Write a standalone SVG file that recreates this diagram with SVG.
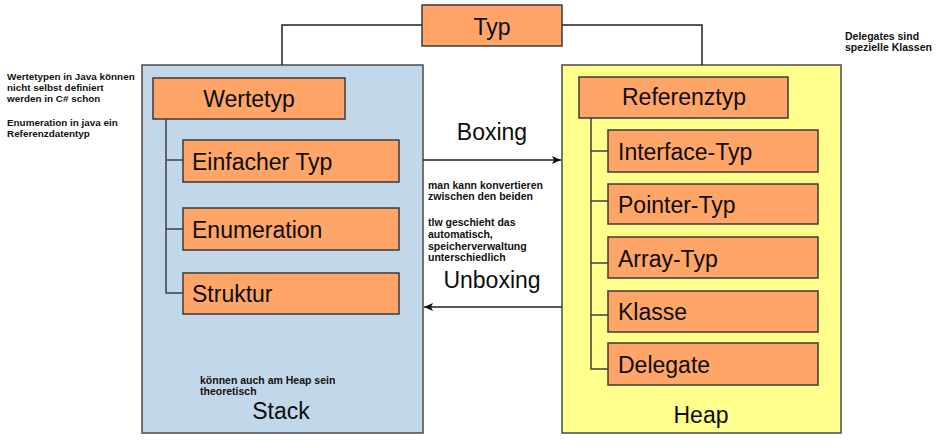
<svg xmlns="http://www.w3.org/2000/svg" width="944" height="446" viewBox="0 0 944 446">
  <style>
    .bg { fill: #ffffff; }
    .area { stroke: #4a4a4a; stroke-width: 1.5; }
    .stack { fill: #c3d7ea; }
    .heap { fill: #ffff8c; }
    .node { fill: #fea567; stroke: #3a3a3a; stroke-width: 1.5; }
    .lbl { font-family: "Liberation Sans", Arial, sans-serif; font-size: 23px; fill: #0d0d0d; }
    .mid { text-anchor: middle; }
    .note { font-family: "Liberation Sans", Arial, sans-serif; font-size: 10.5px; font-weight: bold; fill: #111111; }
    .side { font-size: 9.9px; }
    .wire { fill: none; stroke: #222222; stroke-width: 1.5; }
    .tree { fill: none; stroke: #3f3f3f; stroke-width: 1.5; }
  </style>
  <defs>
    <marker id="arrow" markerWidth="10" markerHeight="10" refX="9" refY="5" orient="auto" markerUnits="userSpaceOnUse">
      <path d="M0,1 L9,5 L0,9 L2,5 Z" fill="#111111"/>
    </marker>
  </defs>

  <rect class="bg" x="0" y="0" width="944" height="446"/>

  <!-- memory areas -->
  <g id="stack">
    <rect class="area stack" x="142" y="65" width="281" height="368"/>
    <text class="lbl mid" x="281" y="419">Stack</text>
  </g>
  <g id="heap">
    <rect class="area heap" x="562" y="65" width="279" height="368"/>
    <text class="lbl mid" x="701" y="423">Heap</text>
  </g>

  <!-- connectors -->
  <g id="connectors">
    <polyline class="wire" points="422,25 282,25 282,65"/>
    <polyline class="wire" points="562,25 702,25 702,65"/>
    <line class="wire" x1="423" y1="160" x2="561" y2="160" marker-end="url(#arrow)"/>
    <line class="wire" x1="562" y1="307" x2="424" y2="307" marker-end="url(#arrow)"/>
    <!-- Wertetyp tree -->
    <polyline class="tree" points="166,119 166,293 183,293"/>
    <line class="tree" x1="166" y1="160" x2="183" y2="160"/>
    <line class="tree" x1="166" y1="229" x2="183" y2="229"/>
    <!-- Referenztyp tree -->
    <polyline class="tree" points="591,118 591,369 608,369"/>
    <line class="tree" x1="591" y1="151" x2="608" y2="151"/>
    <line class="tree" x1="591" y1="201" x2="608" y2="201"/>
    <line class="tree" x1="591" y1="263" x2="608" y2="263"/>
    <line class="tree" x1="591" y1="315" x2="608" y2="315"/>
  </g>

  <!-- nodes -->
  <g id="typ">
    <rect class="node" x="422" y="5" width="140" height="41"/>
    <text class="lbl mid" x="492" y="35">Typ</text>
  </g>
  <g id="wertetyp">
    <rect class="node" x="153" y="78" width="192" height="41"/>
    <text class="lbl mid" x="249" y="107">Wertetyp</text>
  </g>
  <g id="einfacher-typ">
    <rect class="node" x="183" y="140" width="216" height="42"/>
    <text class="lbl" x="192" y="170">Einfacher Typ</text>
  </g>
  <g id="enumeration">
    <rect class="node" x="183" y="208" width="216" height="42"/>
    <text class="lbl" x="192" y="238">Enumeration</text>
  </g>
  <g id="struktur">
    <rect class="node" x="183" y="273" width="216" height="41"/>
    <text class="lbl" x="192" y="302">Struktur</text>
  </g>
  <g id="referenztyp">
    <rect class="node" x="579" y="77" width="209" height="41"/>
    <text class="lbl mid" x="684" y="105">Referenztyp</text>
  </g>
  <g id="interface-typ">
    <rect class="node" x="608" y="130" width="210" height="42"/>
    <text class="lbl" x="618" y="160">Interface-Typ</text>
  </g>
  <g id="pointer-typ">
    <rect class="node" x="608" y="184" width="210" height="40"/>
    <text class="lbl" x="618" y="213">Pointer-Typ</text>
  </g>
  <g id="array-typ">
    <rect class="node" x="608" y="237" width="210" height="41"/>
    <text class="lbl" x="618" y="267">Array-Typ</text>
  </g>
  <g id="klasse">
    <rect class="node" x="608" y="291" width="210" height="41"/>
    <text class="lbl" x="618" y="320">Klasse</text>
  </g>
  <g id="delegate">
    <rect class="node" x="608" y="343" width="210" height="42"/>
    <text class="lbl" x="618" y="373">Delegate</text>
  </g>

  <!-- arrow labels -->
  <text class="lbl mid" x="492" y="140">Boxing</text>
  <text class="lbl mid" x="492" y="288">Unboxing</text>

  <!-- notes -->
  <text class="note side" x="7" y="80">Wertetypen in Java können</text>
  <text class="note side" x="7" y="91">nicht selbst definiert</text>
  <text class="note side" x="7" y="102">werden in C# schon</text>
  <text class="note side" x="7" y="126">Enumeration in java ein</text>
  <text class="note side" x="7" y="137">Referenzdatentyp</text>

  <text class="note" x="428" y="189">man kann konvertieren</text>
  <text class="note" x="428" y="200">zwischen den beiden</text>
  <text class="note" x="428" y="226">tlw geschieht das</text>
  <text class="note" x="428" y="238">automatisch,</text>
  <text class="note" x="428" y="250">speicherverwaltung</text>
  <text class="note" x="428" y="261">unterschiedlich</text>

  <text class="note" x="845" y="40">Delegates sind</text>
  <text class="note" x="845" y="51">spezielle Klassen</text>

  <text class="note" x="200" y="384">können auch am Heap sein</text>
  <text class="note" x="200" y="395">theoretisch</text>
</svg>
